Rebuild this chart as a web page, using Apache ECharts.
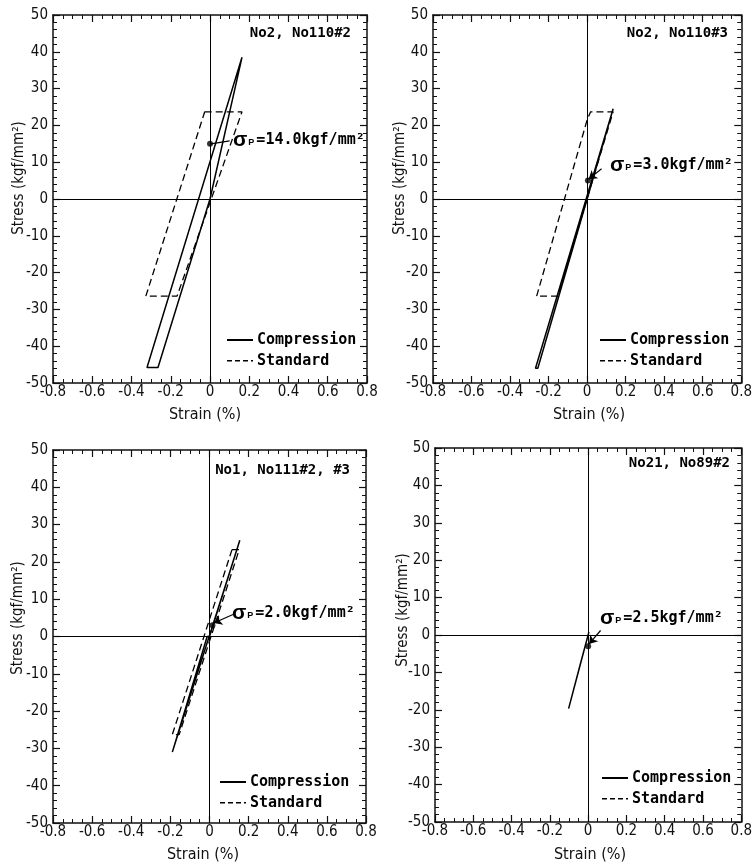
<!DOCTYPE html>
<html>
<head>
<meta charset="utf-8">
<script src="https://cdn.jsdelivr.net/npm/echarts@6/dist/echarts.min.js"></script>
<style>
html,body{margin:0;padding:0;background:#fff;}
#c{width:755px;height:865px;}
</style>
</head>
<body>
<div id="c"></div>
<script>
// ---------- DATA ----------
const panelTitles = ['No2, No110#2', 'No2, No110#3', 'No1, No111#2, #3', 'No21, No89#2'];
const sigmaValues = ['14.0', '3.0', '2.0', '2.5'];
const seriesNames = ['Compression', 'Standard'];
const xRange = [-0.8, 0.8];
const yRange = [-50, 50];

// Panel 1
const compression1 = [[0,0],[0.163,38.5],[-0.321,-45.8],[-0.265,-45.8],[0,0]];
const standard1 = [[-0.027,23.7],[0.163,23.7],[-0.168,-26.4],[-0.327,-26.4],[-0.027,23.7]];
const sigmaPoint1 = [[0,15]];
const sigmaLead1 = [[0.1,15.8],[0.004,15]];
// Panel 2
const compression2 = [[0,0],[0.135,24.5],[-0.268,-46],[-0.256,-46],[0,0]];
const standard2 = [[-0.262,-26.4],[0.0,21.5],[0.018,23.7],[0.135,23.7],[-0.152,-26.4],[-0.262,-26.4]];
const sigmaPoint2 = [[0.004,5]];
const sigmaLead2 = [[0.075,8.2],[0.008,5.4]];
// Panel 3
const compression3 = [[0,0],[0.155,25.8],[-0.19,-31],[-0.012,0],[0,0]];
const standard3 = [[0.115,23.3],[0.152,23.3],[-0.155,-26.3],[-0.19,-26.3],[0.115,23.3]];
const sigmaPoint3 = [[0.015,3]];
const sigmaLead3 = [[0.12,5.9],[0.022,3.6]];
// Panel 4
const compression4 = [[0.004,0.8],[-0.102,-19.7],[-0.04,-7.6],[0,0]];
const standard4 = [];
const sigmaPoint4 = [[0,-3]];
const sigmaLead4 = [[0.065,1.2],[0.005,-2.4]];

const compressionData = [compression1, compression2, compression3, compression4];
const standardData = [standard1, standard2, standard3, standard4];
const sigmaPoints = [sigmaPoint1, sigmaPoint2, sigmaPoint3, sigmaPoint4];
const sigmaLeads = [sigmaLead1, sigmaLead2, sigmaLead3, sigmaLead4];
const leadArrow = [false, true, true, true];

// ---------- LAYOUT ----------
const grids = [
  {left:53, top:15, width:314, height:368},
  {left:433, top:15, width:315, height:368},
  {left:53, top:450, width:313, height:373},
  {left:435, top:448, width:313, height:374}
];
const MONO = '"DejaVu Sans Mono", "Liberation Mono", monospace';
const SANS = '"Liberation Sans", Arial, sans-serif';
const NARROW = '"DejaVu Sans Condensed", "Liberation Sans Narrow", "Liberation Sans", sans-serif';

const fmtX = v => Math.abs(v) < 1e-9 ? '0' : (v < 0 ? '-' : '') + Math.abs(v).toFixed(1);
const fmtY = v => Math.abs(v) < 1e-9 ? '0' : (v < 0 ? '-' : '') + Math.abs(Math.round(v));

const xAxes = [], yAxes = [], series = [], graphics = [];

function axisCommon(showLabel, fmt, split) {
  return {
    axisLine: {show:true, onZero:false, lineStyle:{color:'#111', width:1.5}},
    axisTick: {show:true, inside:true, length:7, lineStyle:{color:'#111', width:1.2}},
    minorTick: {show:true, splitNumber:split, length:4, lineStyle:{color:'#111', width:1}},
    splitLine: {show:false},
    axisLabel: {show:showLabel, formatter:fmt, color:'#111', fontFamily:NARROW, fontSize:15},
  };
}

const solidStyle = {color:'#000', width:1.5, type:'solid'};
const dashStyle = {color:'#000', width:1.3, type:[7,4]};

grids.forEach((g, i) => {
  xAxes.push(Object.assign({type:'value', gridIndex:i, position:'bottom', min:xRange[0], max:xRange[1], interval:0.2}, axisCommon(true, fmtX, 4)));
  xAxes[xAxes.length-1].axisLabel.margin = 2;
  xAxes.push(Object.assign({type:'value', gridIndex:i, position:'top', min:xRange[0], max:xRange[1], interval:0.2}, axisCommon(false, fmtX, 4)));
  yAxes.push(Object.assign({type:'value', gridIndex:i, position:'left', min:yRange[0], max:yRange[1], interval:10}, axisCommon(true, fmtY, 5)));
  yAxes[yAxes.length-1].axisLabel.margin = 5;
  yAxes.push(Object.assign({type:'value', gridIndex:i, position:'right', min:yRange[0], max:yRange[1], interval:10}, axisCommon(false, fmtY, 5)));

  const xi = 2*i, yi = 2*i;
  series.push({
    name: seriesNames[0], type:'line', xAxisIndex:xi, yAxisIndex:yi,
    data: compressionData[i], symbol:'none', animation:false,
    lineStyle:solidStyle, itemStyle:{color:'#000'},
    markLine:{silent:true, symbol:'none', animation:false, label:{show:false},
      lineStyle:{color:'#000', width:1, type:'solid'},
      data:[{xAxis:0},{yAxis:0}]}
  });
  series.push({
    name: seriesNames[1], type:'line', xAxisIndex:xi, yAxisIndex:yi,
    data: standardData[i], symbol:'none', animation:false,
    lineStyle:dashStyle, itemStyle:{color:'#000'}
  });
  series.push({
    type:'scatter', xAxisIndex:xi, yAxisIndex:yi, data: sigmaPoints[i],
    symbol:'circle', symbolSize:6, itemStyle:{color:'#000'}, animation:false, silent:true
  });
  series.push({
    type:'lines', coordinateSystem:'cartesian2d', xAxisIndex:xi, yAxisIndex:yi,
    data:[{coords: sigmaLeads[i]}], symbol: leadArrow[i] ? ['none','arrow'] : ['none','none'],
    symbolSize:8, lineStyle:{color:'#000', width:1.2, opacity:1, curveness:0},
    animation:false, silent:true
  });
});

// hand-drawn legends (line sample + text)
const legendPos = [[227,340],[600,340],[220,782],[602,778]];
const legendRowGap = 20.7;
legendPos.forEach(p => {
  seriesNames.forEach((nm, k) => {
    const y = p[1] + k*legendRowGap;
    graphics.push({type:'line', z:10, shape:{x1:p[0], y1:y, x2:p[0]+26, y2:y},
      style:{stroke:'#000', lineWidth: k===0 ? 2 : 1.6, lineDash: k===0 ? null : [5,3]}});
    graphics.push({type:'text', x:p[0]+30, y:y, z:10,
      style:{text:nm, font:'bold 15px ' + MONO, fill:'#000', align:'left', verticalAlign:'middle'}});
  });
});

// panel titles (right-aligned)
const titlePos = [[351,33],[728,33],[350,470],[730,463]];
titlePos.forEach((p, i) => {
  graphics.push({type:'text', x:p[0], y:p[1], z:10,
    style:{text:panelTitles[i], font:'bold 14px ' + MONO, fill:'#000', align:'right', verticalAlign:'middle'}});
});

// sigma labels
const sigmaPos = [[233,140],[610,165],[232,613],[600,618]];
sigmaPos.forEach((p, i) => {
  graphics.push({type:'text', x:p[0], y:p[1], z:10,
    style:{text:'{s|\u03c3}{p|P}{t|=' + sigmaValues[i] + 'kgf/mm\u00b2}', verticalAlign:'middle', align:'left',
      rich:{
        s:{font:'bold 21px ' + SANS, fill:'#000', verticalAlign:'middle'},
        p:{font:'bold 9px ' + SANS, fill:'#000', padding:[6,2,0,1]},
        t:{font:'bold 15px ' + MONO, fill:'#000'}
      }}});
});

// axis names
const yNamePos = [[19,178],[400,178],[18,618],[403,610]];
yNamePos.forEach(p => {
  graphics.push({type:'text', x:p[0], y:p[1], rotation:Math.PI/2, z:10,
    style:{text:'Stress (kgf/mm\u00b2)', font:'15px ' + NARROW, fill:'#111', align:'center', verticalAlign:'middle'}});
});
const xNamePos = [[205,415],[589,415],[203,855],[590,855]];
xNamePos.forEach(p => {
  graphics.push({type:'text', x:p[0], y:p[1], z:10,
    style:{text:'Strain (%)', font:'16px ' + NARROW, fill:'#111', align:'center', verticalAlign:'middle'}});
});

const chart = echarts.init(document.getElementById('c'), null, {renderer:'canvas'});
chart.setOption({
  backgroundColor:'#fff',
  animation:false,
  grid: grids,
  xAxis: xAxes,
  yAxis: yAxes,
  series: series,
  graphic: graphics
});
</script>
</body>
</html>
